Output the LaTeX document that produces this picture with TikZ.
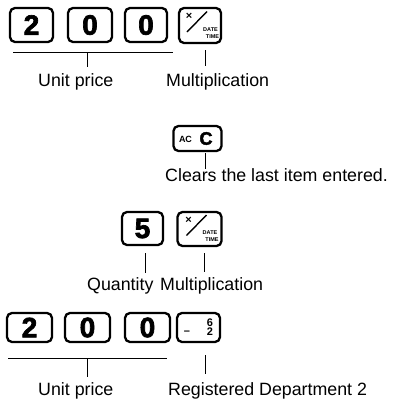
\documentclass[tikz,border=0pt]{standalone}
\usepackage{fontspec}
\setmainfont{Liberation Sans}
\newfontfamily\heavy{Liberation Sans}[BoldFeatures={FakeBold=2.5}]
\usetikzlibrary{calc}
\begin{document}
\begin{tikzpicture}[x=1pt,y=-1pt,
  key/.style={draw, line width=2.3pt, rounded corners=5pt, inner sep=0pt, font=\fontsize{28}{30}\heavy\bfseries},
  lbl/.style={inner sep=0pt, anchor=base west, font=\fontsize{17.8}{20}\selectfont},
  tick/.style={line width=0.8pt},
  tinyt/.style={inner sep=0pt, font=\fontsize{5.5}{5.5}\bfseries},
  smallt/.style={inner sep=0pt, font=\fontsize{11}{11}\bfseries}
]
\useasboundingbox (0,0) rectangle (399,400);

% ---------- Row 1 ----------
\node[key, minimum width=43pt, minimum height=34pt] (k11) at (31.5,25) {2};
\node[key, minimum width=44pt, minimum height=34pt] (k12) at (90,25) {0};
\node[key, minimum width=42pt, minimum height=34pt] (k13) at (146,25) {0};
\node[key, minimum width=42pt, minimum height=35pt] (k14) at (200,25.5) {};
\draw[line width=1.4pt] ($(k14.center)+(-13,6.5)$) -- ($(k14.center)+(7,-14)$);
\node[smallt] (k14x) at ($(k14.center)+(-11,-9)$) {×};
\node[tinyt] (k14d) at ($(k14.center)+(10.5,4)$) {DATE};
\node[tinyt] (k14t) at ($(k14.center)+(12.5,11)$) {TIME};

\coordinate (u1a) at (13,52);
\coordinate (u1b) at (173,52);
\coordinate (u1m) at (87,52);
\coordinate (t14) at (205,50);
\draw[tick] (u1a) -- (u1b);
\node[lbl] (up1) at (38,86) {Unit price};
\node[lbl] (mu1) at (166,86) {Multiplication};
\draw[tick, shorten >=6pt] (u1m) -- (u1m |- up1.north);
\draw[tick, shorten >=7pt] (t14) -- (t14 |- mu1.north);

% ---------- AC C ----------
\node[key, minimum width=48pt, minimum height=25pt] (kac) at (197.5,138.5) {};
\node[inner sep=0pt, font=\fontsize{9}{9}\bfseries] (kaca) at ($(kac.center)+(-12,1)$) {AC};
\node[inner sep=0pt, font=\fontsize{18}{18}\heavy\bfseries] (kacc) at ($(kac.center)+(8.5,0)$) {C};
\coordinate (tac) at (205,153);
\node[lbl] (clr) at (165,181) {Clears the last item entered.};
\draw[tick, shorten >=-1pt] (tac) -- (tac |- clr.north);

% ---------- Row 3 ----------
\node[key, minimum width=41pt, minimum height=33pt] (k31) at (142.5,228.5) {5};
\node[key, minimum width=44pt, minimum height=34pt] (k32) at (199.5,229) {};
\draw[line width=1.4pt] ($(k32.center)+(-13,6.5)$) -- ($(k32.center)+(7,-14)$);
\node[smallt] (k32x) at ($(k32.center)+(-11,-9)$) {×};
\node[tinyt] (k32d) at ($(k32.center)+(10.5,4)$) {DATE};
\node[tinyt] (k32t) at ($(k32.center)+(12.5,11)$) {TIME};

\node[lbl] (qty) at (87,290) {Quantity};
\node[lbl] (mu3) at (160,290) {Multiplication};
\coordinate (t31) at (145,253);
\coordinate (t32) at (204,253);
\draw[tick, shorten >=4pt] (t31) -- (t31 |- qty.north);
\draw[tick, shorten >=5pt] (t32) -- (t32 |- mu3.north);

% ---------- Row 4 ----------
\node[key, minimum width=45pt, minimum height=29pt] (k41) at (29.5,327.5) {2};
\node[key, minimum width=45pt, minimum height=29pt] (k42) at (87.5,327.5) {0};
\node[key, minimum width=45pt, minimum height=29pt] (k43) at (147.5,327.5) {0};
\node[key, minimum width=43pt, minimum height=29pt] (k44) at (198.5,327.5) {};
\node[smallt] (k44m) at ($(k44.center)+(-11.5,5)$) {–};
\node[smallt] (k446) at ($(k44.center)+(11.5,-5)$) {6};
\node[smallt] (k442) at ($(k44.center)+(11.5,4.5)$) {2};

\coordinate (u4a) at (8,358);
\coordinate (u4b) at (167,358);
\coordinate (u4m) at (87,358);
\coordinate (t44) at (205,355);
\draw[tick] (u4a) -- (u4b);
\node[lbl] (up4) at (38,395) {Unit price};
\node[lbl] (rd4) at (168,395) {Registered Department 2};
\draw[tick, shorten >=5pt] (u4m) -- (u4m |- up4.north);
\draw[tick, shorten >=8pt] (t44) -- (t44 |- rd4.north);
\end{tikzpicture}
\end{document}
